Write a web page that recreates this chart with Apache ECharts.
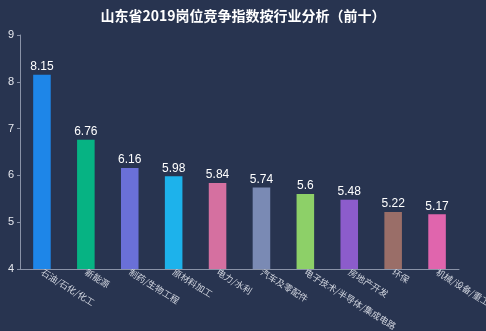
<!DOCTYPE html>
<html><head><meta charset="utf-8">
<script src="https://cdn.jsdelivr.net/npm/echarts@6/dist/echarts.min.js"></script>
<style>html,body{margin:0;padding:0;background:#283450;}#c{width:486px;height:331px;}</style>
</head><body><div id="c"></div>
<script>
const categories = ['石油/石化/化工','新能源','制药/生物工程','原材料加工','电力/水利','汽车及零配件','电子技术/半导体/集成电路','房地产开发','环保','机械/设备/重工'];
const values = [8.15, 6.76, 6.16, 5.98, 5.84, 5.74, 5.6, 5.48, 5.22, 5.17];
const colors = ['#1e86e8','#06b383','#6a70d8','#1db2eb','#d570a0','#7a8ab4','#8dd068','#8c5ccb','#9a6e68','#e065ad'];
const chart = echarts.init(document.getElementById('c'));
chart.setOption({
  backgroundColor: '#283450',
  title: {text: '山东省2019岗位竞争指数按行业分析（前十）', left: 'center', top: 4,
    textStyle: {color: '#fff', fontSize: 14, fontWeight: 'bold', fontFamily: 'Noto Sans CJK SC'}},
  grid: {left: 20, right: 27, top: 35, bottom: 62, containLabel: false, outerBoundsMode: 'none'},
  xAxis: {type: 'category', data: categories,
    axisLine: {lineStyle: {color: '#8a93a8'}},
    axisTick: {lineStyle: {color: '#8a93a8'}, length: 3, inside: true},
    axisLabel: {rotate: -32, color: '#d0d4de', fontSize: 9, interval: 0, margin: 2, fontFamily: 'Noto Sans CJK SC'}},
  yAxis: {type: 'value', min: 4, max: 9, interval: 1,
    splitLine: {show: false},
    axisLine: {show: true, lineStyle: {color: '#8a93a8'}},
    axisTick: {show: true, length: 3, lineStyle: {color: '#8a93a8'}},
    axisLabel: {color: '#e6e8ee', fontSize: 11, margin: 6}},
  series: [{type: 'bar', data: values, barWidth: '40%',
    itemStyle: {color: p => colors[p.dataIndex]},
    label: {show: true, position: 'top', color: '#fff', fontSize: 12, distance: 2}}]
});
</script></body></html>
